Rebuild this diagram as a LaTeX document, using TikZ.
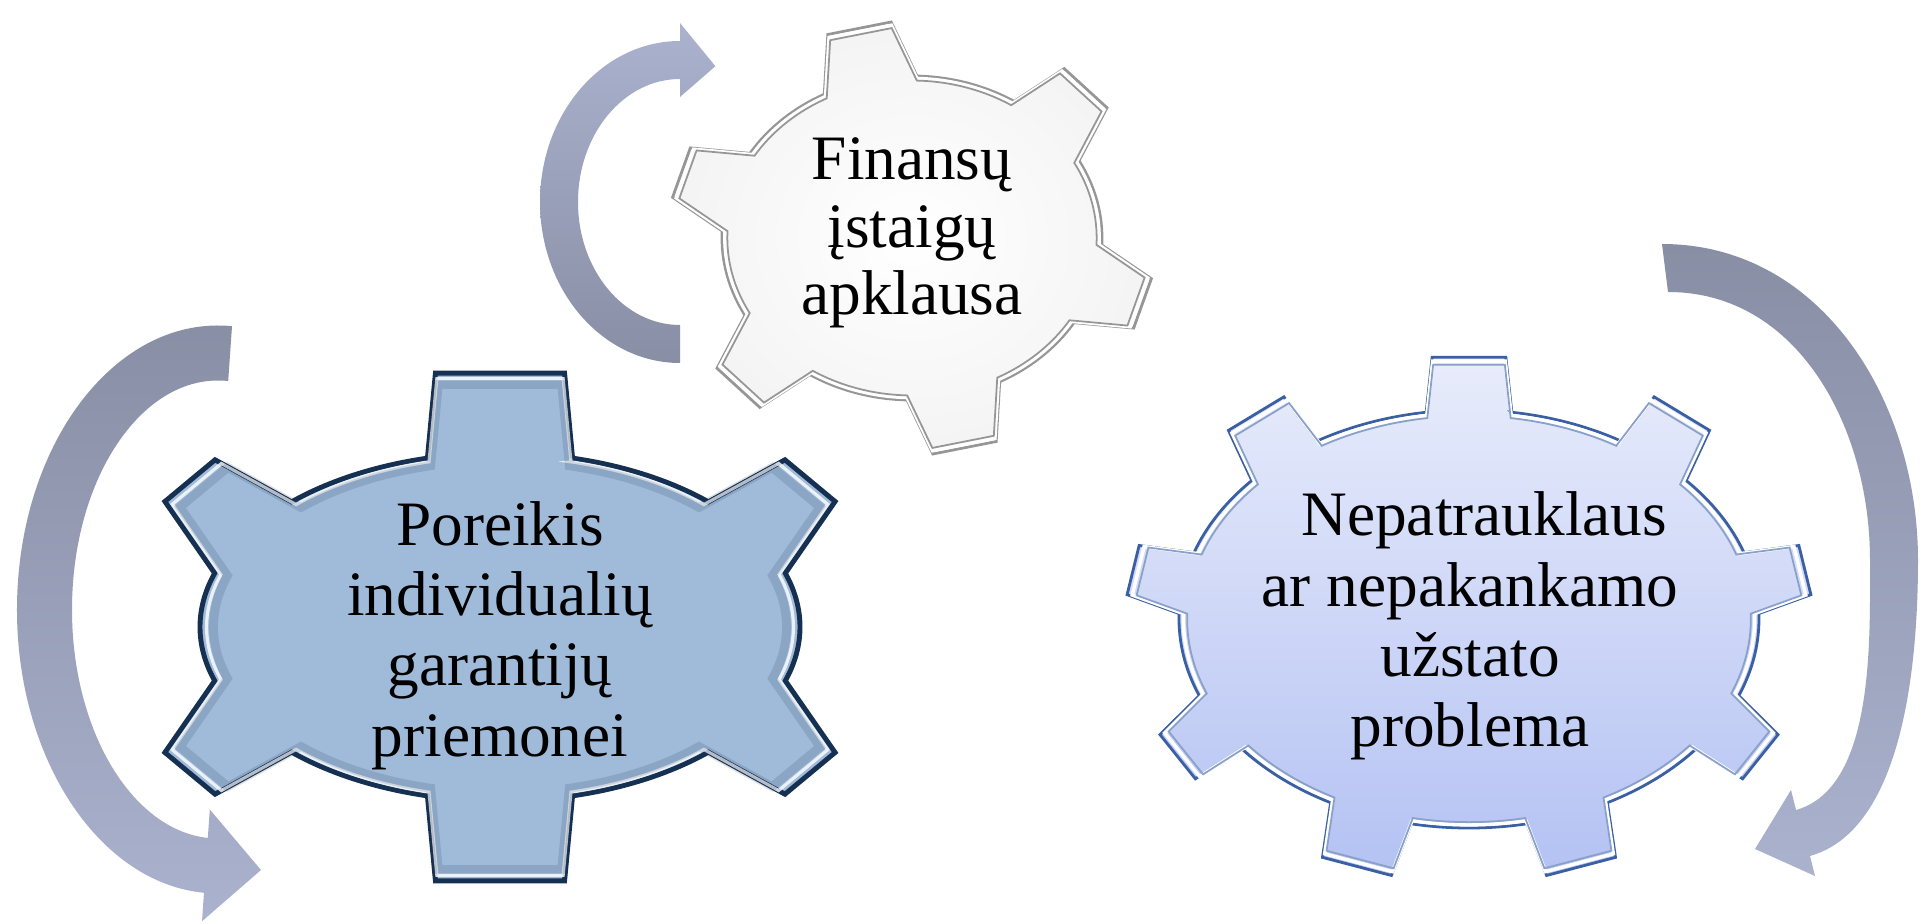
\documentclass[tikz,border=0pt]{standalone}
\usepackage{fontspec}
\setmainfont{Liberation Serif}
\usetikzlibrary{calc}
\definecolor{gearblue}{RGB}{160,187,217}
\definecolor{gearnavy}{RGB}{22,48,82}
\definecolor{lavtop}{RGB}{232,236,251}
\definecolor{lavbot}{RGB}{180,194,243}
\definecolor{lavedge}{RGB}{58,96,163}
\definecolor{grayedge}{RGB}{150,150,150}
\definecolor{arrowdark}{RGB}{136,142,164}
\definecolor{arrowlight}{RGB}{171,178,206}

\begin{document}
\begin{tikzpicture}[
  gtext/.style={font=\fontsize{18}{20}\selectfont, align=center, inner sep=0pt},
  blueface/.style={fill=gearblue, draw=gearnavy, line width=1.4pt},
  bluerim/.style={draw=white, draw opacity=0.8, line width=0.9pt},
  blueline/.style={draw=gearnavy, draw opacity=0.15, line width=2.5pt},
  lavface/.style={top color=lavtop, bottom color=lavbot, draw=lavedge, line width=0.8pt},
  lavrim/.style={draw=white, line width=1pt},
  lavline/.style={draw=lavedge!60, line width=0.5pt},
  grayface/.style={inner color=white, outer color=gray!9, draw=grayedge, line width=0.8pt},
  grayrim/.style={draw=white, line width=1pt},
  grayline/.style={draw=grayedge, line width=0.5pt}
]
\useasboundingbox (0,0) rectangle (19.24,9.23);

\coordinate (arrL) at (2.18,3.135);
\coordinate (arrT) at (6.80,7.21);
\coordinate (g1) at (5.00,2.96);
\coordinate (g2) at (9.12,6.85);
\coordinate (g3) at (14.69,3.04);

\shade[top color=arrowdark, bottom color=arrowlight] ($(arrL)+(86:2.01 and 2.84)$) arc[start angle=86, end angle=266, x radius=2.01, y radius=2.84] -- ($(arrL)+(266:2.295 and 3.125)$) -- ($(arrL)+(0.43,-2.605)$) -- ($(arrL)+(266:1.175 and 2.005)$) -- ($(arrL)+(266:1.46 and 2.29)$) arc[start angle=266, end angle=86, x radius=1.46, y radius=2.29] -- cycle;
\shade[top color=arrowlight, bottom color=arrowdark] ($(arrT)+(270:1.40 and 1.61)$) arc[start angle=270, end angle=90, x radius=1.40, y radius=1.61] -- ($(arrT)+(90:1.58 and 1.79)$) -- ($(arrT)+(73:1.21 and 1.42)$) -- ($(arrT)+(90:0.84 and 1.05)$) -- ($(arrT)+(90:1.02 and 1.23)$) arc[start angle=90, end angle=270, x radius=1.02, y radius=1.23] -- cycle;
\shade[top color=arrowdark, bottom color=arrowlight] (16.62,6.79) to[out=0,in=90] (19.18,3.63) to[out=-90,in=15.7,looseness=0.8] (18.10,0.67) -- (18.15,0.47) -- (17.55,0.74) -- (17.91,1.33) -- (17.96,1.13) to[out=15.7,in=-90,looseness=0.8] (18.70,3.63) to[out=90,in=0] (16.68,6.31) -- cycle;

\foreach \sc/\lay in {1/blueface,0.978/bluerim,0.955/blueline}{
\draw[\lay] ($(g1)+(76:{3*\sc} and {1.74*\sc})$)
  \foreach \ang/\dir/\nxt/\tap in {90/90/148/0.08,148/138/212/0.2,212/222/270/0.2,270/270/328/0.08,328/318/392/0.2,392/402/450/0.2}{
    -- ($(g1)+({\ang-14}:{3*\sc} and {1.74*\sc})+(\dir:{0.85*\sc})+({\dir+90}:{\tap*\sc})$)
    -- ($(g1)+({\ang+14}:{3*\sc} and {1.74*\sc})+(\dir:{0.85*\sc})+({\dir-90}:{\tap*\sc})$)
    -- ($(g1)+({\ang+14}:{3*\sc} and {1.74*\sc})$)
    arc[start angle=\ang+14, end angle=\nxt-14, x radius=3*\sc, y radius=1.74*\sc]
  } -- cycle;
}

\foreach \sc/\lay in {1/grayface,0.985/grayrim,0.972/grayline}{
\draw[\lay] ($(g2)+(88.5:{1.9*\sc} and {1.62*\sc})$)
  \foreach \ang/\dir/\nxt in {103/101.1/163,163/160.3/223,223/227.6/283,283/281.1/343,343/340.3/403,403/407.6/463}{
    -- ($(g2)+({\ang-14.5}:{1.9*\sc} and {1.62*\sc})+(\dir:{0.58*\sc})+({\dir+90}:{0.15*\sc})$)
    -- ($(g2)+({\ang+14.5}:{1.9*\sc} and {1.62*\sc})+(\dir:{0.58*\sc})+({\dir-90}:{0.15*\sc})$)
    -- ($(g2)+({\ang+14.5}:{1.9*\sc} and {1.62*\sc})$)
    arc[start angle=\ang+14.5, end angle=\nxt-14.5, x radius=1.9*\sc, y radius=1.62*\sc]
  } -- cycle;
}

\foreach \sc/\lay in {1/lavface,0.985/lavrim,0.972/lavline}{
\draw[\lay] ($(g3)+(81.5:{2.9*\sc} and {2.09*\sc})$)
  \foreach \ang/\dir/\nxt in {90/90/130,130/121.2/170,170/166.3/210,210/218.7/250,250/255.3/290,290/284.7/330,330/321.3/370,370/373.7/410,410/418.8/450}{
    -- ($(g3)+({\ang-8.5}:{2.9*\sc} and {2.09*\sc})+(\dir:{0.55*\sc})+({\dir+90}:{0.06*\sc})$)
    -- ($(g3)+({\ang+8.5}:{2.9*\sc} and {2.09*\sc})+(\dir:{0.55*\sc})+({\dir-90}:{0.06*\sc})$)
    -- ($(g3)+({\ang+8.5}:{2.9*\sc} and {2.09*\sc})$)
    arc[start angle=\ang+8.5, end angle=\nxt-8.5, x radius=2.9*\sc, y radius=2.09*\sc]
  } -- cycle;
}

\node[gtext] (poreikis) at (5.00,2.875) {Poreikis\\individualių\\garantijų\\priemonei};
\node[gtext, font=\fontsize{18}{19.2}\selectfont] (finansai) at (9.12,6.90) {Finansų\\įstaigų\\apklausa};
\node[gtext] (uzstatas) at (14.70,2.97) {\hspace*{0.45em}Nepatrauklaus\\ar nepakankamo\\užstato\\problema};

\end{tikzpicture}
\end{document}
